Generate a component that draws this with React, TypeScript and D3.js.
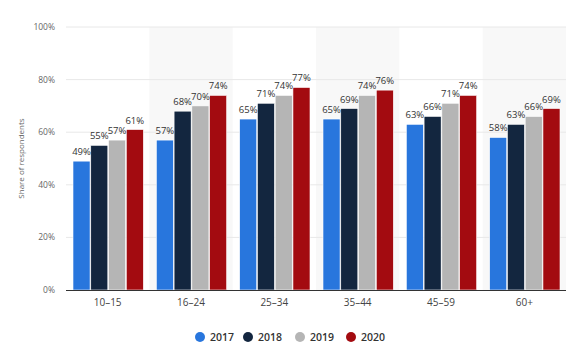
import { useEffect, useRef } from "react";
import * as d3 from "d3";

const ageGroups = ["10-15", "16-24", "25-34", "35-44", "45-59", "60+"];
const years = ["2017", "2018", "2019", "2020"];
const v2017 = [49, 57, 65, 65, 63, 58];
const v2018 = [55, 68, 71, 69, 66, 63];
const v2019 = [57, 70, 74, 74, 71, 66];
const v2020 = [61, 74, 77, 76, 74, 69];
const yTicks = [0, 20, 40, 60, 80, 100];
const colors = ["#2876dd", "#13263f", "#b5b5b5", "#a30b10"];

export default function App() {
  const svgRef = useRef<SVGSVGElement>(null);

  useEffect(() => {
    if (!svgRef.current) return;
    const width = 580;
    const height = 350;
    const margin = { top: 27, right: 14, bottom: 60, left: 66 };
    const font = "'Open Sans', 'Noto Sans', sans-serif";

    const series = [v2017, v2018, v2019, v2020];

    const svg = d3.select(svgRef.current);
    svg.selectAll("*").remove();

    const x = d3.scaleBand()
      .domain(ageGroups)
      .range([margin.left, width - margin.right]);

    const x1 = d3.scaleBand()
      .domain(years)
      .range([7, x.bandwidth() - 6])
      .paddingInner(0.04);

    const y = d3.scaleLinear()
      .domain([0, 100])
      .range([height - margin.bottom, margin.top]);

    // shaded bands
    svg.append("g")
      .selectAll("rect")
      .data(ageGroups.filter((_, i) => i % 2 === 1))
      .join("rect")
      .attr("x", d => x(d)!)
      .attr("y", y(100))
      .attr("width", x.bandwidth())
      .attr("height", y(0) - y(100))
      .attr("fill", "#f8f8f8");

    // grid lines
    svg.append("g")
      .selectAll("line")
      .data(yTicks.filter(t => t > 0))
      .join("line")
      .attr("x1", margin.left)
      .attr("x2", width - margin.right)
      .attr("y1", d => y(d))
      .attr("y2", d => y(d))
      .attr("stroke", "#e8e8e8")
      .attr("stroke-width", 1);

    // y tick labels
    svg.append("g")
      .selectAll("text")
      .data(yTicks)
      .join("text")
      .attr("x", 55)
      .attr("y", d => y(d) + 3)
      .attr("text-anchor", "end")
      .attr("font-family", font)
      .attr("font-size", "8.5px")
      .attr("fill", "#666")
      .text(d => `${d}%`);

    // y title
    svg.append("text")
      .attr("transform", `translate(24,${(y(0) + y(100)) / 2}) rotate(-90)`)
      .attr("text-anchor", "middle")
      .attr("font-family", font)
      .attr("font-size", "8px")
      .attr("fill", "#666")
      .text("Share of respondents");

    // bars
    const groups = svg.append("g")
      .selectAll("g")
      .data(ageGroups)
      .join("g")
      .attr("transform", d => `translate(${x(d)},0)`);

    groups.selectAll("rect")
      .data((_, i) => years.map((yr, j) => ({ yr, v: series[j][i], c: colors[j] })))
      .join("rect")
      .attr("x", d => x1(d.yr)!)
      .attr("y", d => y(d.v))
      .attr("width", x1.bandwidth())
      .attr("height", d => y(0) - y(d.v))
      .attr("fill", d => d.c)
      .attr("stroke", "#fff")
      .attr("stroke-width", 0.6);

    groups.selectAll("text")
      .data((_, i) => years.map((yr, j) => ({ yr, v: series[j][i] })))
      .join("text")
      .attr("x", d => x1(d.yr)! + x1.bandwidth() / 2)
      .attr("y", d => y(d.v) - 6)
      .attr("text-anchor", "middle")
      .attr("font-family", font)
      .attr("font-size", "9.5px")
      .attr("fill", "#333")
      .text(d => `${d.v}%`);

    // baseline
    svg.append("line")
      .attr("x1", margin.left)
      .attr("x2", width - margin.right)
      .attr("y1", y(0) + 0.5)
      .attr("y2", y(0) + 0.5)
      .attr("stroke", "#333")
      .attr("stroke-width", 1);

    // x labels
    svg.append("g")
      .selectAll("text")
      .data(ageGroups)
      .join("text")
      .attr("x", d => x(d)! + x.bandwidth() / 2)
      .attr("y", y(0) + 16)
      .attr("text-anchor", "middle")
      .attr("font-family", font)
      .attr("font-size", "10px")
      .attr("fill", "#444")
      .text(d => d.replace("-", "–"));

    // legend
    const legendX = [200, 248, 300, 351];
    const legend = svg.append("g")
      .selectAll("g")
      .data(years)
      .join("g")
      .attr("transform", (_, i) => `translate(${legendX[i]},337)`);
    legend.append("circle")
      .attr("r", 5)
      .attr("fill", (_, i) => colors[i]);
    legend.append("text")
      .attr("x", 10)
      .attr("y", 4)
      .attr("font-family", font)
      .attr("font-size", "10.5px")
      .attr("font-weight", 600)
      .attr("fill", "#333")
      .text(d => d);
  }, []);

  return (
    <div style={{ position: "absolute", left: 0, top: 0 }}>
      <svg ref={svgRef} width={580} height={350} style={{ display: "block" }} />
    </div>
  );
}
